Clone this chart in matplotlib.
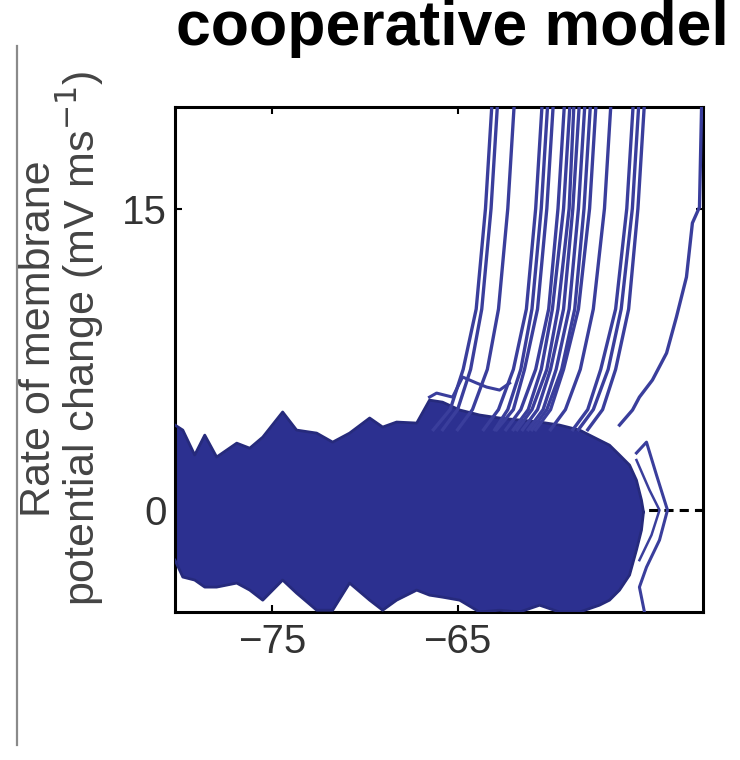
import numpy as np
import matplotlib.pyplot as plt
from matplotlib.lines import Line2D

plt.rcParams.update({
    'font.family': ['Liberation Sans', 'DejaVu Sans'],
    'axes.linewidth': 2.2,
    'xtick.direction': 'in',
    'ytick.direction': 'in',
})

# subthreshold noise cloud (V in mV, dV/dt in mV/ms)
cloud_v = [-80.2, -79.78, -79.14, -78.60, -77.96, -76.88, -76.18, -75.48, -74.41,
           -73.66, -72.58, -71.72, -70.81, -69.73, -69.03, -68.28, -67.20, -66.51,
           -65.81, -64.89, -63.82, -62.74, -61.67, -60.59, -59.52, -58.44, -57.37,
           -56.83, -56.29, -55.75, -55.38, -55.11, -55.0]
cloud_top = [4.23, 3.98, 2.74, 3.73, 2.64, 3.33, 3.08, 3.63, 4.88, 3.98, 3.83, 3.38,
             3.83, 4.58, 4.13, 4.38, 4.33, 5.47, 5.37, 4.98, 4.73, 4.58, 4.48, 4.38,
             4.23, 3.98, 3.48, 3.23, 2.74, 2.24, 1.49, 0.5, -0.1]
cloud_bot = [-2.49, -3.33, -3.48, -3.83, -3.83, -3.63, -3.98, -4.48, -3.48, -4.13,
             -4.98, -4.98, -3.63, -4.48, -4.98, -4.48, -3.98, -4.23, -4.33, -4.48,
             -5.07, -4.98, -5.07, -4.73, -5.07, -5.07, -4.73, -4.48, -3.98, -3.23,
             -1.99, -1.0, -0.1]

# spike upstrokes: V at each dV/dt level
spike_r = [21, 15, 10, 7, 5, 4]
spike_v = [
    [-63.1, -63.5, -64.0, -64.7, -65.4, -66.3],
    [-62.8, -63.2, -63.7, -64.3, -65.0, -65.8],
    [-61.9, -62.3, -62.8, -63.4, -64.2, -65.0],
    [-60.4, -60.8, -61.3, -62.0, -62.8, -63.6],
    [-60.1, -60.5, -61.0, -61.6, -62.3, -63.0],
    [-59.8, -60.2, -60.7, -61.4, -62.0, -62.9],
    [-59.2, -59.6, -60.1, -60.8, -61.6, -62.4],
    [-58.9, -59.3, -59.9, -60.5, -61.2, -62.0],
    [-58.7, -59.0, -59.6, -60.2, -61.0, -61.8],
    [-58.4, -58.8, -59.3, -60.0, -60.7, -61.5],
    [-58.1, -58.5, -59.0, -59.7, -60.4, -61.2],
    [-57.8, -58.2, -58.7, -59.4, -60.2, -61.0],
    [-57.5, -57.9, -58.5, -59.3, -60.0, -60.8],
    [-56.7, -57.1, -57.7, -58.4, -59.2, -60.0],
    [-55.5, -55.9, -56.5, -57.3, -58.0, -58.8],
    [-55.2, -55.6, -56.2, -56.9, -57.7, -58.5],
    [-54.9, -55.3, -55.8, -56.5, -57.2, -58.0],
]

# late spike along the right edge
late_v = [-51.83, -51.88, -51.99, -52.37, -52.69, -53.23, -53.76, -54.52, -55.22, -55.59, -56.29]
late_r = [21.0, 19.9, 15.07, 14.28, 11.59, 9.6, 7.81, 6.47, 5.62, 4.98, 4.23]

# ragged fringe at the foot of the spikes
step_v = [-66.51, -66.13, -65.27, -64.73, -63.98, -63.44, -62.74, -62.20]
step_r = [5.62, 5.82, 5.62, 6.62, 6.32, 6.12, 5.97, 6.32]

# loops at the right end of the cloud
loop_v = [-55.38, -54.84, -54.30, -53.71, -54.14, -54.84, -55.22, -54.95, -54.84]
loop_r = [2.84, 3.38, 1.74, 0.0, -1.49, -2.84, -3.83, -5.07, -5.72]
loop2_v = [-55.38, -54.68, -54.14, -54.57, -55.22]
loop2_r = [2.49, 1.0, 0.0, -1.24, -2.49]

blue = '#2c3090'
line_blue = '#3a3e9c'

fig = plt.figure(figsize=(7.4, 7.6), dpi=100)
ax = fig.add_axes([0.2365, 0.1947, 0.7135, 0.6645])

ax.axhline(0, color='black', linestyle=(0, (3, 2)), linewidth=2.2, zorder=1)

ax.fill_between(cloud_v, cloud_bot, cloud_top, color=blue, linewidth=0, zorder=2)
ax.plot(cloud_v, cloud_top, color='#262a7c', linewidth=2, zorder=3)
ax.plot(cloud_v, cloud_bot, color='#262a7c', linewidth=2, zorder=3)

for v in spike_v:
    ax.plot(v, spike_r, color=line_blue, linewidth=2.4, zorder=3)
ax.plot(late_v, late_r, color=line_blue, linewidth=2.4, zorder=3)
ax.plot(step_v, step_r, color=line_blue, linewidth=2.2, zorder=3)
ax.plot(loop_v, loop_r, color=line_blue, linewidth=2.2, zorder=3)
ax.plot(loop2_v, loop2_r, color=line_blue, linewidth=1.8, zorder=3)

ax.set_xlim(-80.2, -51.8)
ax.set_ylim(-5.07, 20.05)
ax.set_xticks([-75, -65])
ax.set_xticklabels(['\u221275', '\u221265'])
ax.set_yticks([0, 15])
ax.tick_params(axis='both', labelsize=29, labelcolor='#333333', length=5, width=1.5,
               top=True, right=True)
ax.tick_params(axis='x', pad=8)
ax.tick_params(axis='y', pad=6)

fig.text(0.0845, 0.555, 'Rate of membrane\npotential change (mV ms$^{-1}$)',
         rotation=90, ha='center', va='center', multialignment='center',
         linespacing=0.88, fontsize=31, color='#444444')

fig.text(0.611, 0.941, 'cooperative model', ha='center', va='baseline',
         fontsize=45, fontweight='bold', color='black')

fig.add_artist(Line2D([0.023, 0.023], [0.02, 0.94], color='#8a8a8a', linewidth=1.6))

fig.savefig('out.png', dpi=100)
